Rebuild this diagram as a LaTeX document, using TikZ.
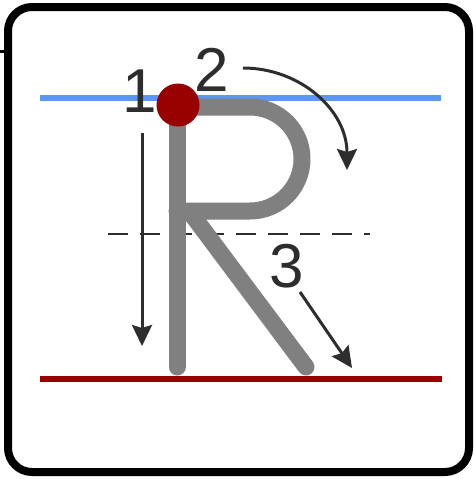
\documentclass[tikz,border=0pt]{standalone}
\usepackage{fontspec}
\setmainfont{Liberation Sans}
\usetikzlibrary{arrows.meta}
\definecolor{guideblue}{RGB}{92,152,240}
\definecolor{guidered}{RGB}{153,0,0}
\definecolor{strokegray}{RGB}{128,128,128}
\definecolor{arrowgray}{RGB}{45,45,45}
\tikzset{
  frame/.style={line width=8pt, rounded corners=24pt},
  guide/.style={line width=6.5pt},
  midline/.style={line width=2pt, arrowgray, dash pattern=on 20pt off 12pt},
  letterstroke/.style={line width=17pt, strokegray, line cap=round, line join=round},
  hint/.style={line width=3pt, arrowgray, -{Stealth[length=21pt,width=20pt,inset=3pt]}},
  numlabel/.style={inner sep=0pt, text=arrowgray, font=\fontsize{62}{62}\selectfont}
}
\begin{document}
\begin{tikzpicture}[x=1pt,y=-1pt]
\useasboundingbox (0,0) rectangle (475,479);
% frame
\draw[frame] (8,7) rectangle (469,472);
\draw[line width=3pt] (0,51.5) -- (8,51.5);
% guide lines
\draw[guide, guideblue] (40,98) -- (441,98);
\draw[guide, guidered] (40,379) -- (442,379);
\draw[midline] (108,234) -- (370,234);
% letter R
\draw[letterstroke] (177,107) -- (177,367);
\draw[letterstroke] (177,107) -- (250,107) arc[start angle=-90, end angle=90, radius=52] -- (177,211);
\draw[letterstroke] (190,212) -- (306,367);
\fill[guidered] (178,105) circle (21.5);
% labels
\node[numlabel] (n1) at (140,91) {1};
\node[numlabel] (n2) at (212,70) {2};
\node[numlabel] (n3) at (287,266) {3};
% hint arrows
\coordinate (a1s) at (142,133);
\coordinate (a1e) at (142,346);
\coordinate (a2s) at (243,68);
\coordinate (a2e) at (347,170);
\coordinate (a3s) at (300,292);
\coordinate (a3e) at (352,368);
\draw[hint] (a1s) -- (a1e);
\draw[hint] (a2s) .. controls (300,68) and (347,110) .. (a2e);
\draw[hint] (a3s) -- (a3e);
\end{tikzpicture}
\end{document}
